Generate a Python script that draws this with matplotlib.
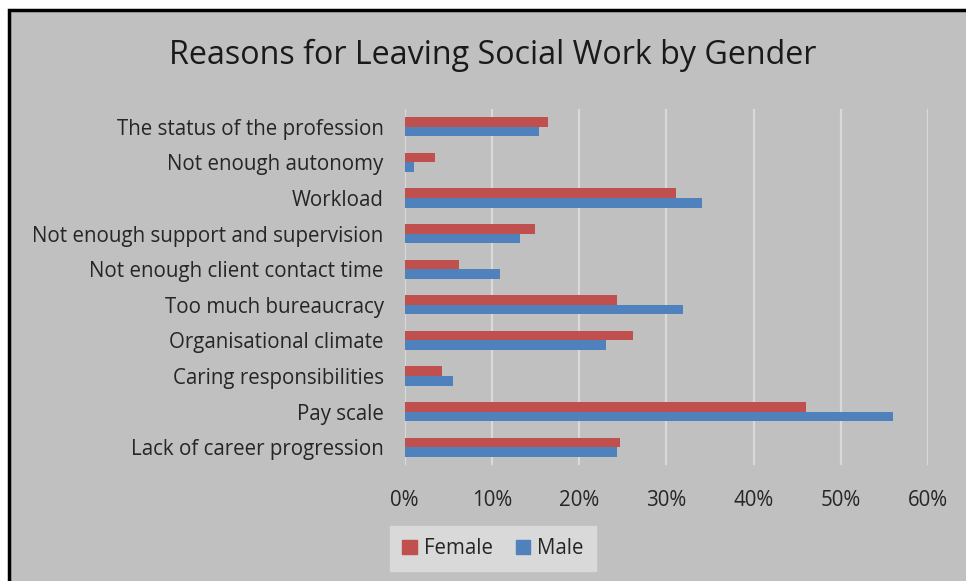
import matplotlib
matplotlib.use("Agg")
import matplotlib.pyplot as plt
import matplotlib.patches as mpatches
from matplotlib.ticker import FuncFormatter
import numpy as np

# Reasons listed bottom-to-top as they appear on the chart
reasons = [
    "Lack of career progression",
    "Pay scale",
    "Caring responsibilities",
    "Organisational climate",
    "Too much bureaucracy",
    "Not enough client contact time",
    "Not enough support and supervision",
    "Workload",
    "Not enough autonomy",
    "The status of the profession",
]
female = [0.247, 0.460, 0.043, 0.262, 0.244, 0.062, 0.150, 0.311, 0.035, 0.165]
male   = [0.243, 0.560, 0.056, 0.231, 0.319, 0.110, 0.132, 0.341, 0.011, 0.154]
xticks = [0.0, 0.1, 0.2, 0.3, 0.4, 0.5, 0.6]

color_female = "#C0504D"
color_male   = "#4F81BD"
color_bg     = "#C0C0C0"
color_grid   = "#D9D9D9"
font         = "Open Sans"
label_size   = 14.8

W, H = 966, 581
fig = plt.figure(figsize=(W / 100, H / 100), dpi=100, facecolor="white")

# chart area panel with dark border on left/top
fig.patches.append(mpatches.Rectangle(
    (8.5 / W, -0.1), 1.2, 1.1 - 10 / H,
    transform=fig.transFigure, facecolor=color_bg,
    edgecolor="black", linewidth=2.5, zorder=-10))

ax = fig.add_axes([404.5 / W, 1 - 465 / H, (928 - 404.5) / W, (465 - 109) / H])
ax.patch.set_alpha(0)

y = np.arange(len(reasons))
h = 0.27
ax.barh(y + h / 2, female, height=h, color=color_female, label="Female", zorder=3)
ax.barh(y - h / 2, male, height=h, color=color_male, label="Male", zorder=3)

ax.set_xlim(0, 0.6)
ax.set_ylim(-0.5, len(reasons) - 0.5)
ax.set_xticks(xticks)
ax.xaxis.set_major_formatter(FuncFormatter(lambda v, _: f"{v * 100:.0f}%"))
ax.set_yticks(y)
ax.set_yticklabels(reasons)
ax.tick_params(axis="both", length=0, labelsize=label_size, labelcolor="#262626")
ax.tick_params(axis="x", pad=18)
ax.tick_params(axis="y", pad=15)
for lab in ax.get_xticklabels() + ax.get_yticklabels():
    lab.set_fontfamily(font)
ax.grid(axis="x", color=color_grid, linewidth=1.6, zorder=1)
for spine in ax.spines.values():
    spine.set_visible(False)

fig.text(493 / W, 1 - 55 / H, "Reasons for Leaving Social Work by Gender",
         ha="center", va="center", fontsize=23.2, color="#1a1a1a", family=font)

leg = fig.legend(
    handles=[mpatches.Patch(color=color_female, label="Female"),
             mpatches.Patch(color=color_male, label="Male")],
    loc="center", bbox_to_anchor=(493 / W, 1 - 548.5 / H), ncol=2,
    frameon=True, fancybox=False, framealpha=1, facecolor="#D9D9D9",
    edgecolor="#D9D9D9", prop={"family": font, "size": label_size},
    handlelength=0.7, handleheight=0.7, handletextpad=0.35, columnspacing=1.1,
    borderpad=0.6, borderaxespad=0)
for t in leg.get_texts():
    t.set_color("#262626")

fig.savefig("out.png", dpi=100, facecolor="white")
